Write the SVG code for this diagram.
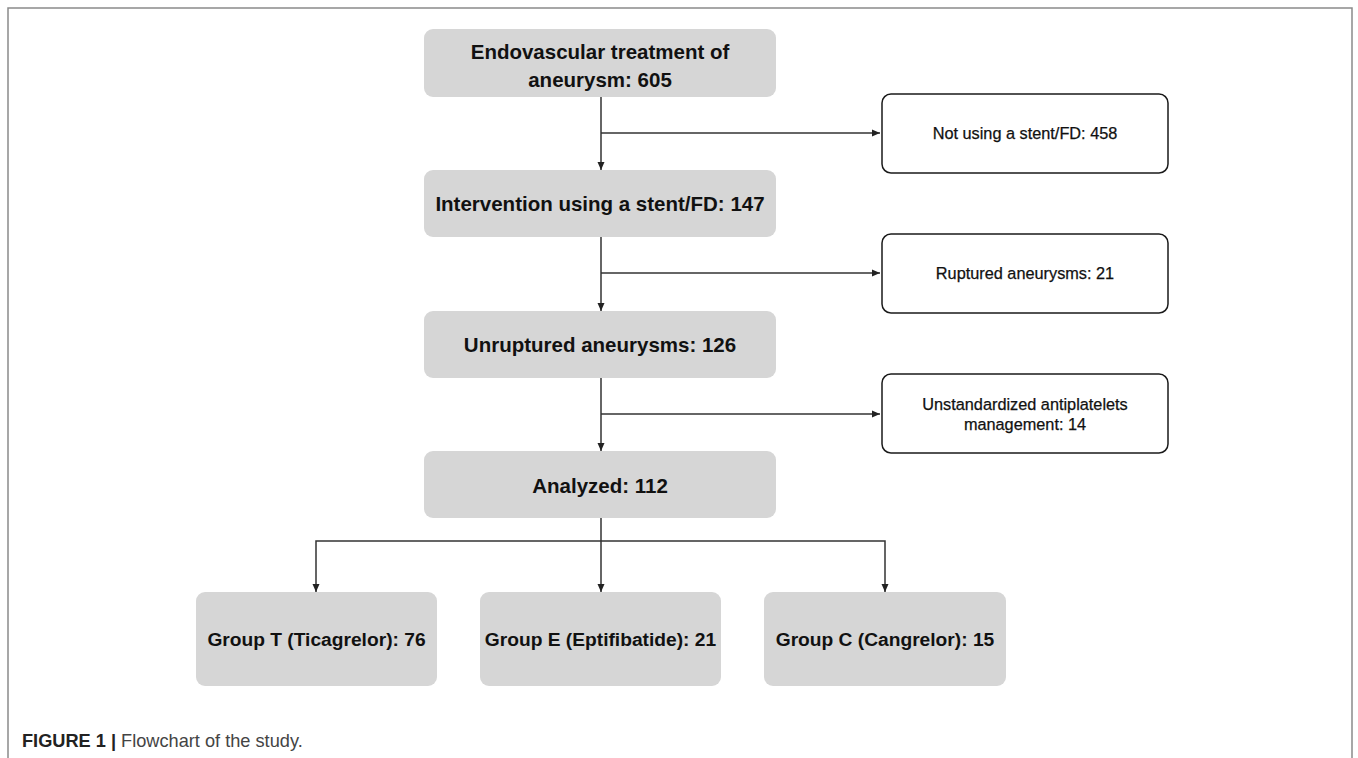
<svg xmlns="http://www.w3.org/2000/svg" width="1358" height="758" viewBox="0 0 1358 758">
<style>
.main{fill:#d6d6d6}
.side{fill:#fff;stroke:#1a1a1a;stroke-width:1.5}
.t{font-family:"Liberation Sans",Arial,sans-serif;fill:#111;text-anchor:middle}
.big{font-size:20.5px;font-weight:bold}
.grp{font-size:19.2px;font-weight:bold}
.sm{font-size:16.3px;stroke:#111;stroke-width:0.25}
.ln{fill:none;stroke:#333;stroke-width:1.5}
.cap{font-family:"Liberation Sans",Arial,sans-serif;font-size:18.2px}
</style>
<defs>
<marker id="ah" markerUnits="userSpaceOnUse" markerWidth="8" markerHeight="8" refX="8" refY="4" orient="auto">
<path d="M0,0.5 L8,4 L0,7.5 z" fill="#222"/>
</marker>
</defs>
<rect width="1358" height="758" fill="#fff"/>
<path d="M8,758 L8,8 L1352,8 L1352,758" fill="none" stroke="#8a8a8a" stroke-width="1.5"/>
<g id="connectors">
<line class="ln" x1="601" y1="97" x2="601" y2="170" marker-end="url(#ah)"/>
<line class="ln" x1="601" y1="133" x2="880" y2="133" marker-end="url(#ah)"/>
<line class="ln" x1="601" y1="237" x2="601" y2="311" marker-end="url(#ah)"/>
<line class="ln" x1="601" y1="273" x2="880" y2="273" marker-end="url(#ah)"/>
<line class="ln" x1="601" y1="378" x2="601" y2="451" marker-end="url(#ah)"/>
<line class="ln" x1="601" y1="414" x2="880" y2="414" marker-end="url(#ah)"/>
<line class="ln" x1="601" y1="518" x2="601" y2="592" marker-end="url(#ah)"/>
<path class="ln" d="M601,541 L316,541 L316,592" marker-end="url(#ah)"/>
<path class="ln" d="M601,541 L885,541 L885,592" marker-end="url(#ah)"/>
</g>
<g id="n1"><rect class="main" x="424" y="29" width="352" height="68" rx="9"/><text class="t big" x="600" y="59">Endovascular treatment of</text><text class="t big" x="600" y="87">aneurysm: 605</text></g>
<g id="n2"><rect class="main" x="424" y="170" width="352" height="67" rx="9"/><text class="t big" x="600" y="211">Intervention using a stent/FD: 147</text></g>
<g id="n3"><rect class="main" x="424" y="311" width="352" height="67" rx="9"/><text class="t big" x="600" y="352">Unruptured aneurysms: 126</text></g>
<g id="n4"><rect class="main" x="424" y="451" width="352" height="67" rx="9"/><text class="t big" x="600" y="493">Analyzed: 112</text></g>
<g id="s1"><rect class="side" x="882" y="94" width="286" height="79" rx="9"/><text class="t sm" x="1025" y="139">Not using a stent/FD: 458</text></g>
<g id="s2"><rect class="side" x="882" y="234" width="286" height="79" rx="9"/><text class="t sm" x="1025" y="279">Ruptured aneurysms: 21</text></g>
<g id="s3"><rect class="side" x="882" y="374" width="286" height="79" rx="9"/><text class="t sm" x="1025" y="410">Unstandardized antiplatelets</text><text class="t sm" x="1025" y="430">management: 14</text></g>
<g id="gT"><rect class="main" x="196" y="592" width="241" height="94" rx="9"/><text class="t grp" x="316.5" y="646">Group T (Ticagrelor): 76</text></g>
<g id="gE"><rect class="main" x="480" y="592" width="241" height="94" rx="9"/><text class="t grp" x="600.5" y="646">Group E (Eptifibatide): 21</text></g>
<g id="gC"><rect class="main" x="764" y="592" width="242" height="94" rx="9"/><text class="t grp" x="885" y="646">Group C (Cangrelor): 15</text></g>
<text class="cap" x="22" y="747"><tspan font-weight="bold" fill="#222">FIGURE 1 | </tspan><tspan fill="#444">Flowchart of the study.</tspan></text>
</svg>
